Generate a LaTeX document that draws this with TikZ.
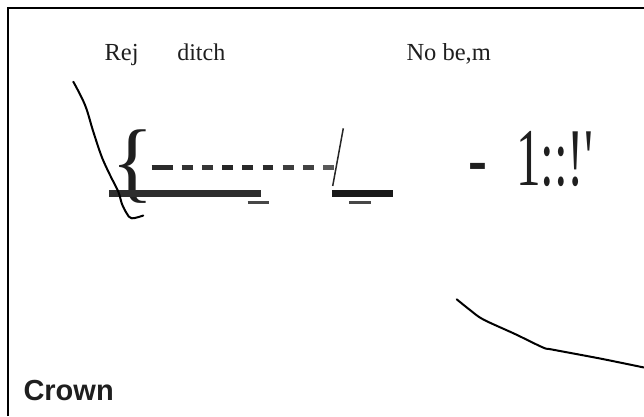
\documentclass[tikz,border=0pt]{standalone}
\usepackage{fontspec}
\setmainfont{Liberation Serif}
\newfontfamily\rawserif{Liberation Serif}[Ligatures=TeXOff]
\newfontfamily\sansfam{Liberation Sans}
\begin{document}
\begin{tikzpicture}[x=1pt,y=-1pt,
  txt/.style={anchor=base west,inner sep=0pt,outer sep=0pt,text=black!88},
  bar/.style={line width=6.7pt,draw=black!82},
  tick/.style={line width=3pt,draw=black!72},
  pen/.style={line width=2pt,draw=black,line cap=round,line join=round}]
\useasboundingbox (0,0) rectangle (644,416);
% frame
\draw[line width=2pt] (8.3,416) -- (8.3,7.7) -- (644,7.7);
% labels
\node[txt,font=\fontsize{24.5}{28}\selectfont] (rej) at (104.6,60) {Rej};
\node[txt,font=\fontsize{24}{28}\selectfont] (ditch) at (177.3,60) {ditch};
\node[txt,font=\fontsize{24.5}{28}\selectfont] (nobe) at (406.5,60) {No be,m};
% brace
\node[txt,font=\fontsize{89}{90}\selectfont] (brace) at (111,191) {\{};
% dashed line
\coordinate (d0) at (151.7,167.3);
\coordinate (d1) at (173.3,167.3);
\draw[line width=5.5pt,draw=black!83] (d0) -- (d1);
\foreach \i/\c in {0/80,1/79,2/85,3/84,4/83,5/76,6/74,7/65}{
  \draw[line width=5.5pt,draw=black!\c] (181.7+20.2*\i,167.3) -- ++(10.8,0);
}
% slash
\coordinate (s0) at (343.3,128.3);
\coordinate (s1) at (332.7,186);
\draw[line width=1.5pt,draw=black!85] (s0) -- (s1);
% bars
\coordinate (b0) at (109,193.3);
\coordinate (b1) at (261,193.3);
\coordinate (b2) at (332.3,193.3);
\coordinate (b3) at (392.7,193.3);
\draw[bar] (b0) -- (b1);
\draw[bar,draw=black!90] (b2) -- (b3);
\coordinate (t0) at (247.7,202.3);
\coordinate (t1) at (269.3,202.3);
\coordinate (t2) at (349,202.3);
\coordinate (t3) at (370.7,202.3);
\draw[tick] (t0) -- (t1);
\draw[tick] (t2) -- (t3);
% right text
\node[txt] (hy) at (468,185) {\rawserif\fontsize{81}{85}\selectfont\scalebox{0.7}[1]{-}};
\node[txt] (num) at (516,185) {\rawserif\fontsize{82}{85}\selectfont\scalebox{0.6}[1]{1::!'}};
% curves
\draw[pen] plot[smooth,tension=0.6] coordinates {(73.3,81.7) (85,105) (93.3,131.7) (101.7,156.7) (110,175) (118.3,191.7) (121.7,203.3) (126.7,213.3) (131.7,218.3) (143.3,215.5)};
\draw[pen] plot[smooth,tension=0.5] coordinates {(456.7,299.3) (470,310) (483.3,319.5) (515,334) (543,347.5) (552,349.5) (600,358.5) (644,367.5)};
% Crown
\node[txt,font=\sansfam\bfseries\fontsize{29}{32}\selectfont] (crown) at (23.5,400.7) {Crown};
\end{tikzpicture}
\end{document}
